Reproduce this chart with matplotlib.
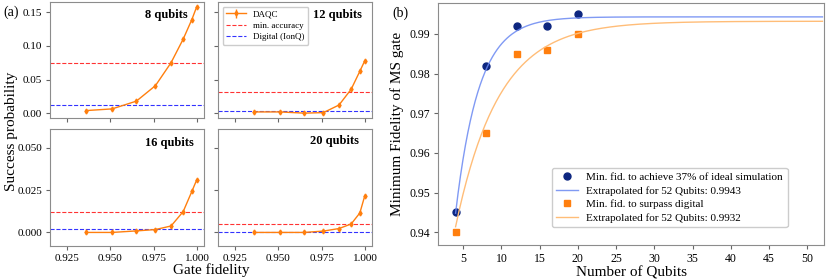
import numpy as np
import matplotlib
matplotlib.use("Agg")
import matplotlib.pyplot as plt

plt.rcParams['font.family'] = ['Liberation Serif', 'DejaVu Serif']
plt.rcParams['mathtext.fontset'] = 'stix'

# (a) success probability vs gate fidelity
fidelity = [0.936, 0.951, 0.965, 0.976, 0.985, 0.992, 0.997, 0.9998]
qubit_labels = ["8 qubits", "12 qubits", "16 qubits", "20 qubits"]
succ_8 = [0.004, 0.0065, 0.018, 0.041, 0.075, 0.110, 0.139, 0.158]
succ_12 = [0.002, 0.002, 0.0002, 0.001, 0.0123, 0.0357, 0.0624, 0.0777]
succ_16 = [0.0, 0.0, 0.0009, 0.0017, 0.0038, 0.0123, 0.0242, 0.031]
succ_20 = [0.0, 0.0, 0.0, 0.0008, 0.0023, 0.005, 0.0115, 0.0215]
min_accuracy = [0.075, 0.0317, 0.0123, 0.0052]
digital_ionq = [0.012, 0.004, 0.0021, 0.0004]
succ_err = 0.0008

# (b) minimum fidelity vs number of qubits
n_qubits = [4, 8, 12, 16, 20]
fid_37 = [0.945, 0.982, 0.992, 0.992, 0.995]
fid_digital = [0.940, 0.965, 0.985, 0.986, 0.990]
# exponential fit y = a - b*exp(-c*(n-4))
fit_37 = (0.9943, 0.0495, 0.33)
fit_digital = (0.9932, 0.0518, 0.177)

fig = plt.figure(figsize=(8.3, 2.8), dpi=100)

W, H = 830.0, 280.0
def px_axes(x0, y0, x1, y1):
    return fig.add_axes([x0 / W, 1 - y1 / H, (x1 - x0) / W, (y1 - y0) / H])

axs = [px_axes(50, 2, 204, 118), px_axes(218, 2, 372, 118),
       px_axes(50, 129, 204, 246), px_axes(218, 129, 372, 246)]
series = [succ_8, succ_12, succ_16, succ_20]
label_pos = [(0.895, 0.89), (0.935, 0.89), (0.935, 0.88), (0.915, 0.90)]

for i, ax in enumerate(axs):
    h1 = ax.errorbar(fidelity, series[i], yerr=succ_err, color='C1', marker='d',
                     ms=2.5, lw=1, elinewidth=1, label='DAQC')
    h2 = ax.axhline(min_accuracy[i], color='red', ls='--', lw=0.8, alpha=0.8,
                    label='min. accuracy')
    h3 = ax.axhline(digital_ionq[i], color='blue', ls='--', lw=0.8, alpha=0.8,
                    label='Digital (IonQ)')
    ax.set_xlim(0.9152, 1.004)
    ax.set_xticks([0.925, 0.950, 0.975, 1.000])
    if i < 2:
        ax.set_ylim(-0.007, 0.165)
        ax.set_yticks([0.0, 0.05, 0.1, 0.15])
        ax.set_xticklabels([])
    else:
        ax.set_ylim(-0.008, 0.061)
        ax.set_yticks([0.0, 0.025, 0.05])
    if i % 2 == 1:
        ax.set_yticklabels([])
    ax.tick_params(labelsize=8, length=3, color='0.4', pad=2.5)
    for s in ax.spines.values():
        s.set_color('0.55')
    ax.text(label_pos[i][0], label_pos[i][1], qubit_labels[i], transform=ax.transAxes,
            ha='right', va='center', fontsize=9, fontweight='bold')
    if i == 1:
        ax.legend([h1, h2, h3], ['DAQC', 'min. accuracy', 'Digital (IonQ)'],
                  loc='upper left', fontsize=6.5, handlelength=2.2, borderpad=0.4,
                  labelspacing=0.35, framealpha=1, edgecolor='0.8')

fig.text(211 / W, 1 - 270 / H, 'Gate fidelity', ha='center', va='center', fontsize=11)
fig.text(12 / W, 1 - 131 / H, 'Success probability', ha='center', va='center',
         rotation=90, fontsize=11)
fig.text(3 / W, 1 - 12 / H, '(a)', ha='left', va='center', fontsize=10)
fig.text(392 / W, 1 - 13 / H, '(b)', ha='left', va='center', fontsize=10)

# (b)
axb = px_axes(438, 3, 824, 245)
nn = np.linspace(4, 52, 300)
a, b, c = fit_37
axb.plot(n_qubits, fid_37, 'o', color='#0d2680', ms=5,
         label='Min. fid. to achieve 37% of ideal simulation')
axb.plot(nn, a - b * np.exp(-c * (nn - 4)), color='#6a88f2', lw=1, alpha=0.85,
         label='Extrapolated for 52 Qubits: %.4f' % a)
a, b, c = fit_digital
axb.plot(n_qubits, fid_digital, 's', color='#ff7f0e', ms=5,
         label='Min. fid. to surpass digital')
axb.plot(nn, a - b * np.exp(-c * (nn - 4)), color='#ffbd78', lw=1,
         label='Extrapolated for 52 Qubits: %.4f' % a)
axb.set_xlim(1.7, 52.2)
axb.set_ylim(0.9368, 0.9978)
axb.set_xticks(range(5, 51, 5))
axb.set_yticks([0.94, 0.95, 0.96, 0.97, 0.98, 0.99])
axb.tick_params(labelsize=8.5, length=3, color='0.4', pad=2.5)
for s in axb.spines.values():
    s.set_color('0.55')
axb.set_xlabel('Number of Qubits', fontsize=11, labelpad=1)
axb.set_ylabel('Minimum Fidelity of MS gate', fontsize=11, labelpad=4)
axb.legend(loc='lower right', bbox_to_anchor=(0.92, 0.05), fontsize=8,
           handlelength=1.9, borderpad=0.4, labelspacing=0.35,
           framealpha=1, edgecolor='0.8')

fig.savefig('out.png', dpi=100)
